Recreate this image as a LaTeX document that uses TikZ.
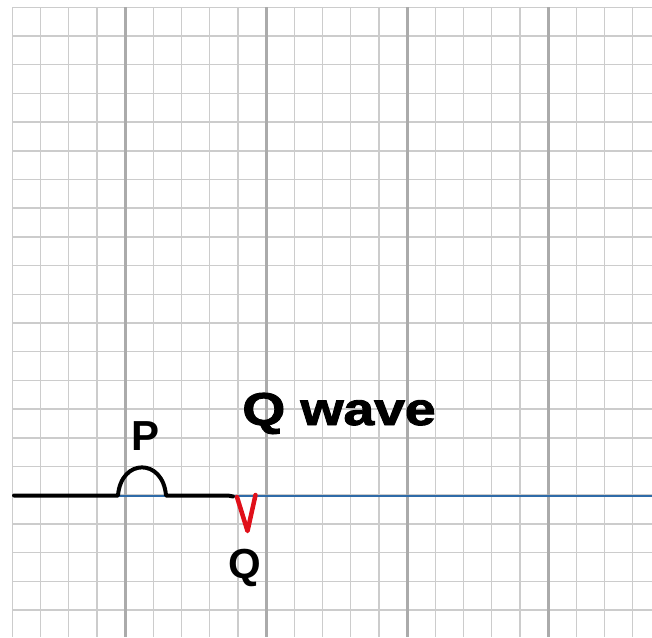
\documentclass[tikz,border=0pt]{standalone}
\usepackage{fontspec}
\usepackage{graphicx}
\setmainfont{Liberation Sans}
\newfontfamily\heavyfont{Liberation Sans}[BoldFeatures={FakeBold=2}]
\usetikzlibrary{positioning}
\definecolor{gridthin}{HTML}{CCCCCC}
\definecolor{gridthick}{HTML}{ABABAB}
\definecolor{iso}{HTML}{2F6BA8}
\definecolor{qred}{HTML}{E0101A}
\tikzset{
  minor/.style={draw=gridthin, line width=1.5pt},
  major/.style={draw=gridthick, line width=3pt},
  isoline/.style={draw=iso, line width=2pt},
  trace/.style={draw=black, line width=4pt, line cap=round, line join=round},
  qtrace/.style={draw=qred, line width=4.5pt, line cap=round, line join=round},
  wavelab/.style={inner sep=0pt, anchor=base, font=\fontsize{42}{42}\selectfont\bfseries},
  titlelab/.style={inner sep=0pt, anchor=base, font=\fontsize{46}{46}\selectfont\heavyfont\bfseries},
}

\begin{document}
\begin{tikzpicture}[x=1pt, y=-1pt]
\useasboundingbox (0,0) rectangle (652,637);

% ECG paper
\foreach \i in {0,...,22}
  \draw[minor] ({12.3+28.2*\i},7.3) -- ({12.3+28.2*\i},637);
\foreach \j in {0,...,21}
  \draw[minor] (12.3,{7.3+28.7*\j}) -- (652,{7.3+28.7*\j});
\foreach \i in {4,9,14,19}
  \draw[major] ({12.3+28.2*\i},7.3) -- ({12.3+28.2*\i},637);

% isoelectric line
\coordinate (isostart) at (118,495.5);
\coordinate (isoend) at (652,495.5);
\draw[isoline] (isostart) -- (isoend);

% P wave and the Q dip
\coordinate (start) at (14,495.5);
\coordinate (pon) at (118,495.5);
\coordinate (poff) at (166,495.5);
\coordinate (qon) at (233,496.5);
\coordinate (qlow) at (247.5,531);
\coordinate (qoff) at (255.5,495);
\draw[trace] (start) -- (pon) .. controls (121,458) and (163,458) .. (poff) -- (228,495.5) to[out=0, in=160] (qon);
\draw[qtrace] (237,497) -- (qlow) -- (qoff);

\node[wavelab] (plab) at (146,450) {P};
\node[wavelab] (qlab) at (245,578) {Q};
\node[titlelab] (title) at (339,425) {\scalebox{1.2}[1]{Q wave}};

\end{tikzpicture}
\end{document}
